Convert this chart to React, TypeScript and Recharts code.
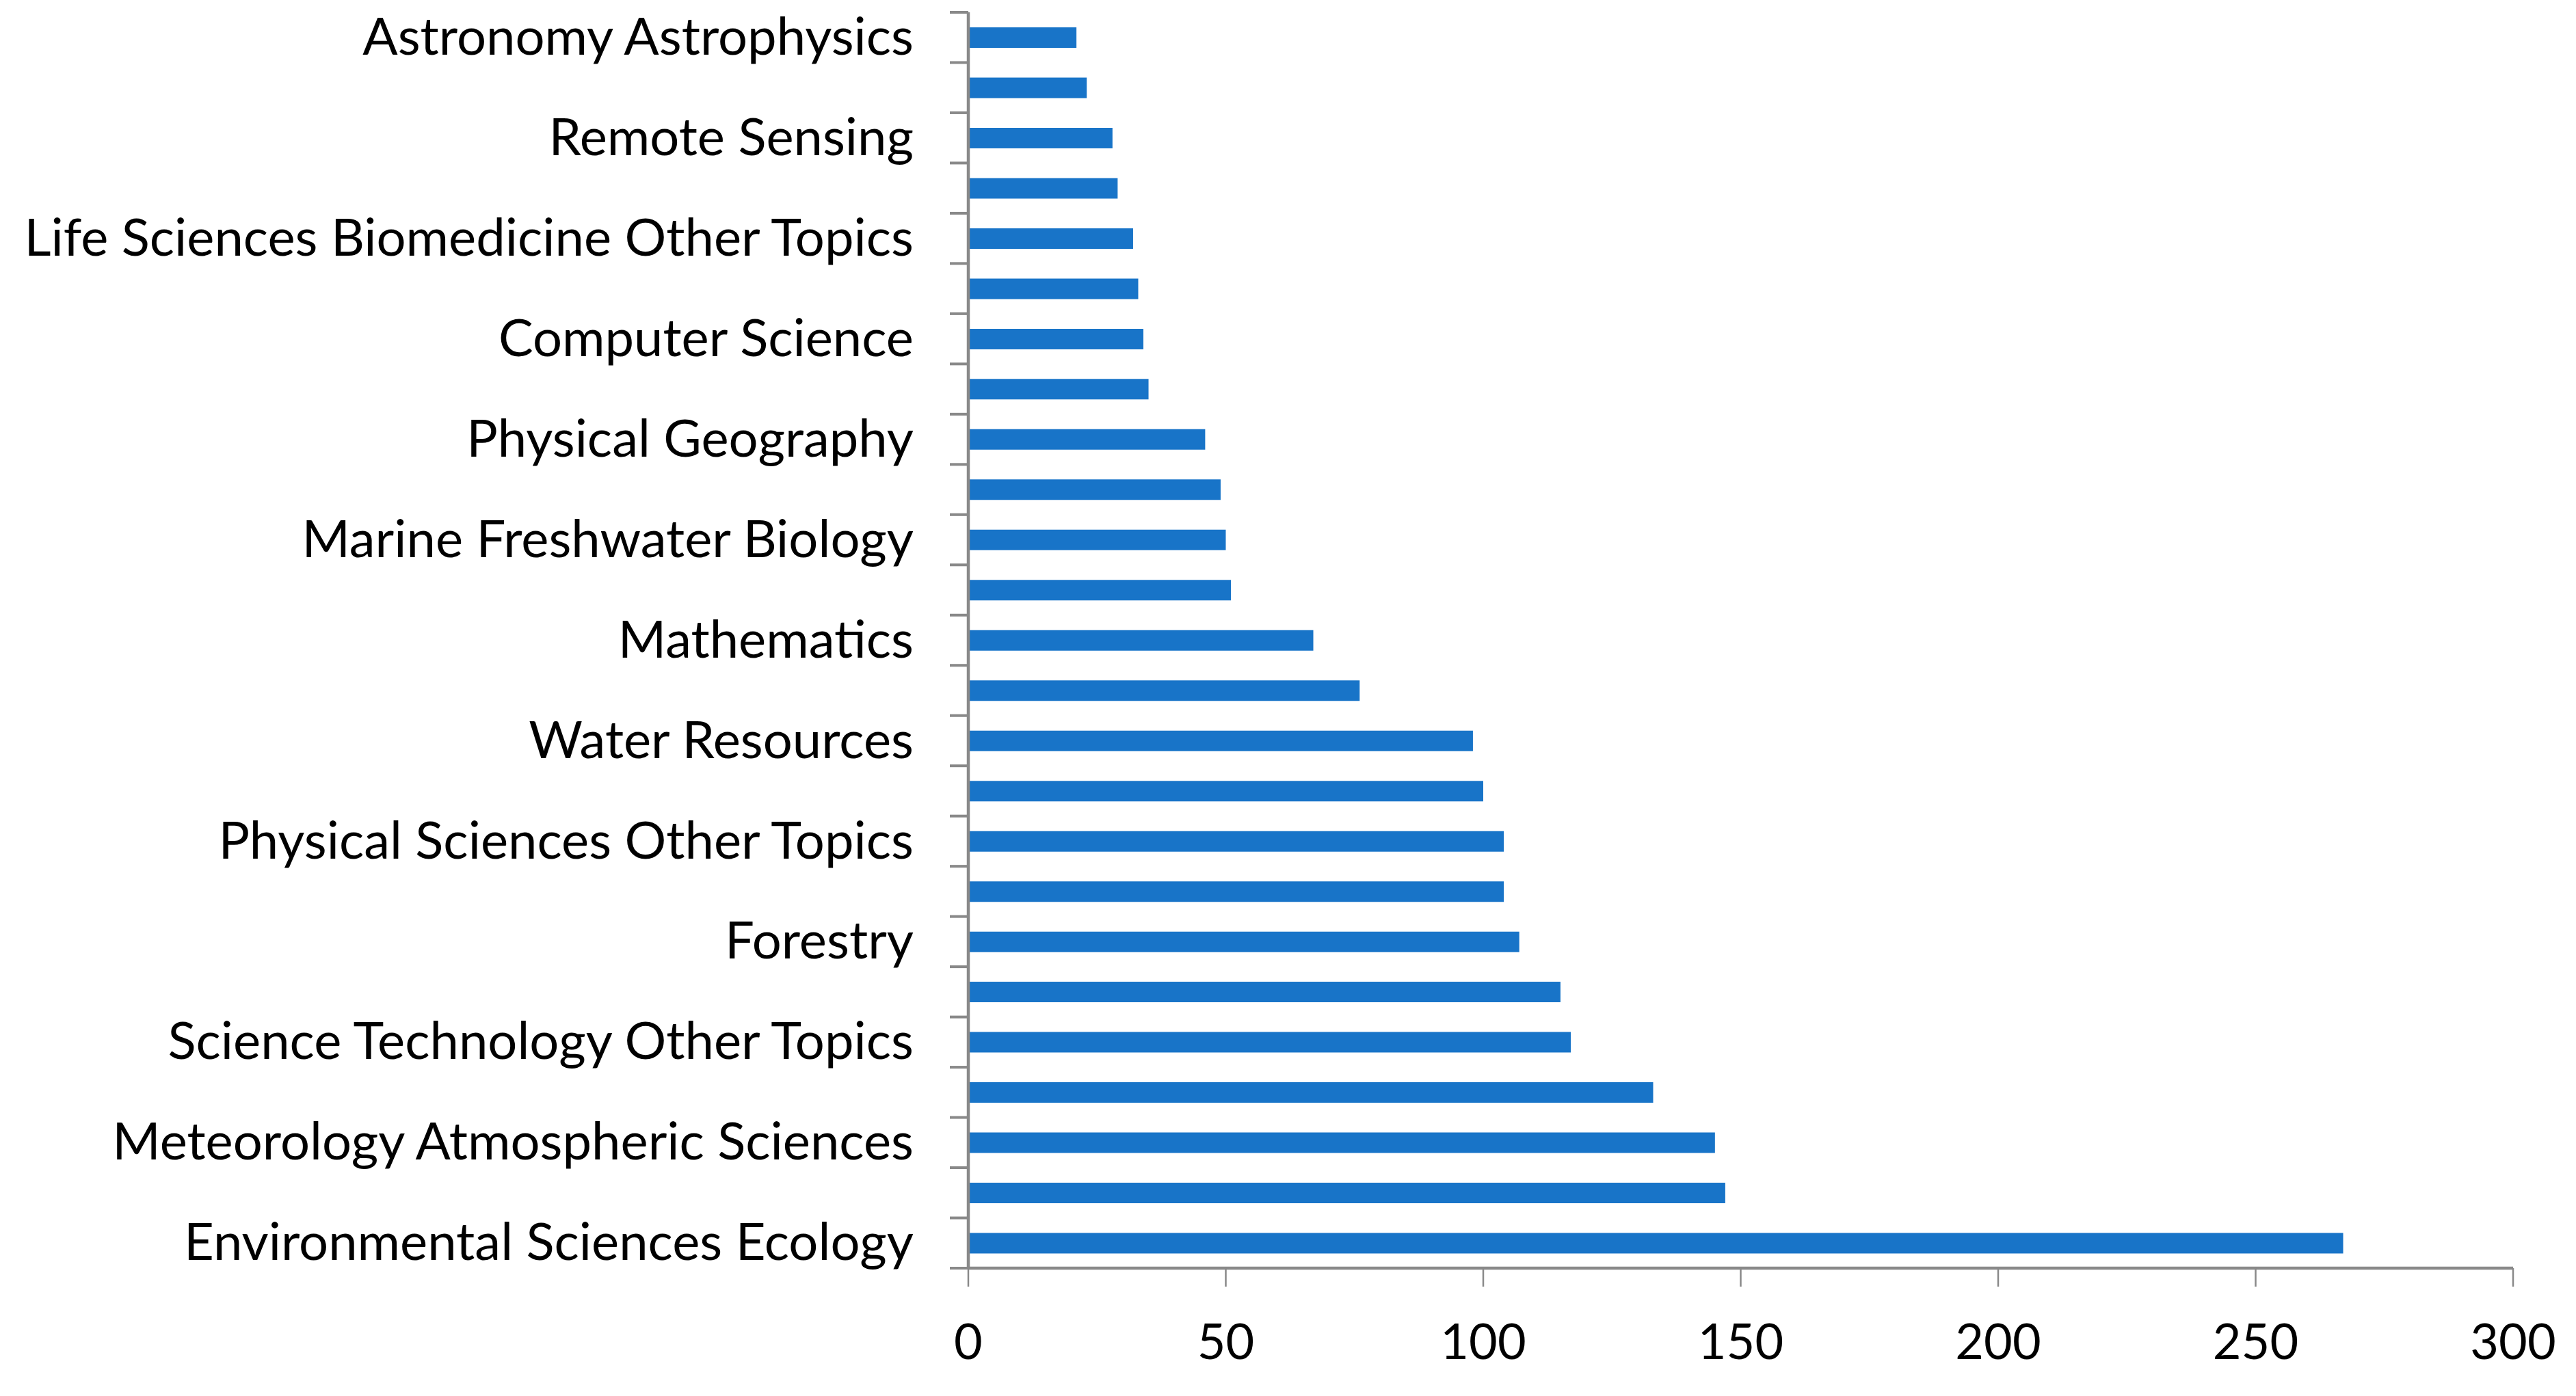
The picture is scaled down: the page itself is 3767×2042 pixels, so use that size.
import { BarChart, Bar, XAxis, YAxis } from "recharts";

const categories = [
  "Astronomy Astrophysics",
  "Oceanography",
  "Remote Sensing",
  "Geography",
  "Life Sciences Biomedicine Other Topics",
  "Zoology",
  "Computer Science",
  "Plant Sciences",
  "Physical Geography",
  "Fisheries",
  "Marine Freshwater Biology",
  "Geochemistry Geophysics",
  "Mathematics",
  "Agriculture",
  "Water Resources",
  "Business Economics",
  "Physical Sciences Other Topics",
  "Engineering",
  "Forestry",
  "Geology",
  "Science Technology Other Topics",
  "Biodiversity Conservation",
  "Meteorology Atmospheric Sciences",
  "Energy Fuels",
  "Environmental Sciences Ecology",
];

const counts = [
  21, 23, 28, 29, 32, 33, 34, 35, 46, 49, 50, 51, 67, 76, 98, 100, 104, 104, 107,
  115, 117, 133, 145, 147, 267,
];

const xTicks = [0, 50, 100, 150, 200, 250, 300];

const data = categories.map((name, i) => ({ name, value: counts[i] }));

const WIDTH = 3767;
const HEIGHT = 2042;
const MARGIN_TOP = 18;
const X_AXIS_H = 187;
const Y_AXIS_W = 1416;
const BAND = (HEIGHT - MARGIN_TOP - X_AXIS_H) / categories.length;
const AXIS_GRAY = "#898989";
const FONT = "Lato";

function CategoryTick(props: any) {
  const { x, y, payload, index } = props;
  const half = BAND / 2;
  return (
    <g>
      <line x1={x - 27} x2={x} y1={y - half} y2={y - half} stroke={AXIS_GRAY} strokeWidth={4} />
      {index === categories.length - 1 && (
        <line x1={x - 27} x2={x} y1={y + half} y2={y + half} stroke={AXIS_GRAY} strokeWidth={4} />
      )}
      {index % 2 === 0 && (
        <text
          x={x - 80}
          y={y}
          dy="0.33em"
          textAnchor="end"
          fontFamily={FONT}
          fontSize={76}
          fill="#000"
        >
          {payload.value}
        </text>
      )}
    </g>
  );
}

export default function App() {
  return (
    <div style={{ position: "absolute", left: 0, top: 0, width: WIDTH, height: HEIGHT, background: "#fff" }}>
      <BarChart
        width={WIDTH}
        height={HEIGHT}
        data={data}
        layout="vertical"
        margin={{ top: MARGIN_TOP, right: 92, bottom: 0, left: 0 }}
      >
        <XAxis
          type="number"
          domain={[0, 300]}
          ticks={xTicks}
          height={X_AXIS_H}
          axisLine={{ stroke: AXIS_GRAY, strokeWidth: 4.5 }}
          tickLine={{ stroke: AXIS_GRAY, strokeWidth: 2.5 }}
          tickSize={27}
          tickMargin={55}
          tick={{ fontFamily: FONT, fontSize: 72, fill: "#000" }}
        />
        <YAxis
          type="category"
          dataKey="name"
          width={Y_AXIS_W}
          interval={0}
          tickLine={false}
          tickSize={0}
          tickMargin={0}
          axisLine={{ stroke: AXIS_GRAY, strokeWidth: 4.5 }}
          tick={<CategoryTick />}
        />
        <Bar dataKey="value" fill="#1874C8" barSize={30} isAnimationActive={false} />
      </BarChart>
    </div>
  );
}
